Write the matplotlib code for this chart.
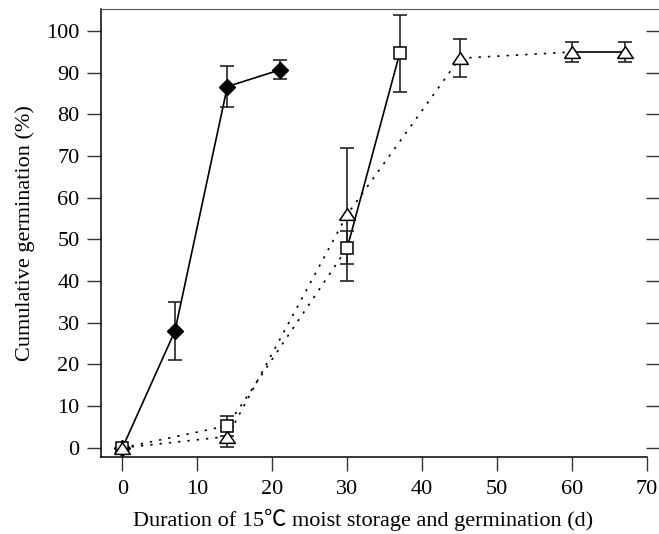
import matplotlib
matplotlib.use("Agg")
import matplotlib.pyplot as plt

# germination data
days_a = [0, 7, 14, 21]
germ_a = [0, 28, 86.7, 90.7]
err_a = [0, 7, 4.9, 2.3]

days_b = [0, 14, 30, 37]
germ_b = [0, 5.3, 48, 94.7]
err_b = [0, 2.4, 4, 9.2]

days_c = [0, 14, 30, 45, 60, 67]
germ_c = [0, 2.7, 56, 93.5, 95, 95]
err_c = [0, 2.4, 16, 4.6, 2.3, 2.3]

x_ticks = [0, 10, 20, 30, 40, 50, 60, 70]
y_ticks = [0, 10, 20, 30, 40, 50, 60, 70, 80, 90, 100]

plt.rcParams['font.family'] = ['Liberation Serif', 'Noto Sans CJK SC', 'DejaVu Serif']
plt.rcParams['font.size'] = 16

fig = plt.figure(figsize=(6.59, 5.34), dpi=100)
ax = fig.add_axes([0.1528, 0.1442, 1 - 0.1528, 0.983 - 0.1442])

dotted = (0, (1.4, 4.2))
lw = 1.2
tri = [(-1, -0.75), (1, -0.75), (0, 0.75), (-1, -0.75)]

# connecting lines
ax.plot(days_a, germ_a, color='black', lw=lw, zorder=2)
ax.plot(days_b[:3], germ_b[:3], color='black', lw=lw, linestyle=dotted, zorder=2)
ax.plot(days_b[2:], germ_b[2:], color='black', lw=lw, zorder=2)
ax.plot(days_c[:5], germ_c[:5], color='black', lw=lw, linestyle=dotted, zorder=2)
ax.plot(days_c[4:], germ_c[4:], color='black', lw=lw, zorder=2)

# error bars and markers
for d, g, e in [(days_a, germ_a, err_a), (days_b, germ_b, err_b), (days_c, germ_c, err_c)]:
    ax.errorbar(d, g, yerr=e, fmt='none', ecolor='#222222',
                elinewidth=1.2, capsize=5, capthick=1.2, zorder=3)

ax.plot(days_a, germ_a, linestyle='none', marker='D', ms=8.6,
        mfc='black', mec='black', mew=1, zorder=4)
ax.plot(days_b, germ_b, linestyle='none', marker='s', ms=9,
        mfc='white', mec='black', mew=1.1, zorder=5)
ax.plot(days_c, germ_c, linestyle='none', marker=tri, ms=11.3,
        mfc='white', mec='black', mew=1.1, zorder=6)

ax.set_xlim(-2.9, 71.6)
ax.set_ylim(-2.2, 105.3)
ax.set_xticks(x_ticks)
ax.set_yticks(y_ticks)

ax.spines['right'].set_visible(False)
ax.spines['bottom'].set_bounds(-2.9, 70)
ax.spines['top'].set_color('#555555')
for s in ['left', 'bottom']:
    ax.spines[s].set_linewidth(1.1)

ax.tick_params(axis='both', direction='out', length=10.2, width=1.0,
               labelsize=16, color='#333333')
ax.tick_params(axis='x', pad=6.5)
ax.tick_params(axis='y', pad=5, right=True)
for t in ax.yaxis.get_major_ticks():
    t.tick2line.set_marker(0)  # tick pointing inward from the right edge
    t.tick2line.set_markersize(9.4)

ax.set_xlabel('Duration of 15\u2103 moist storage and germination (d)', fontsize=16)
ax.xaxis.set_label_coords(0.47, -0.115)
ax.set_ylabel('Cumulative germination (%)', fontsize=16, labelpad=8)

fig.savefig('out.png', dpi=100)
